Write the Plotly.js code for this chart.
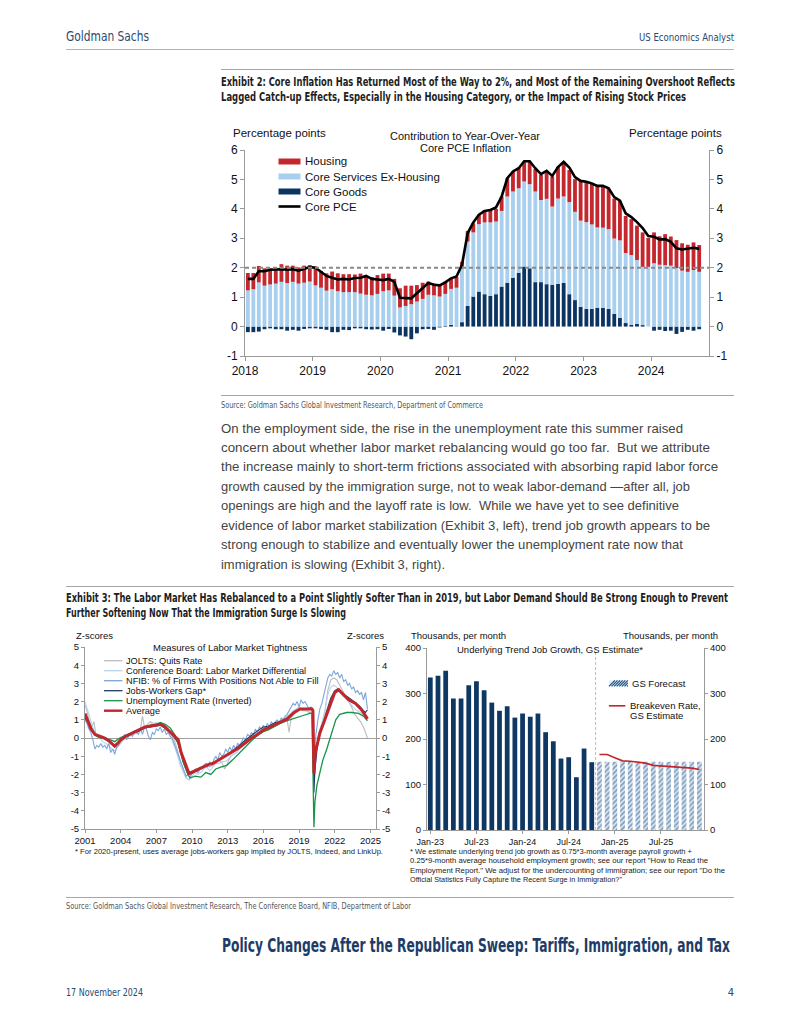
<!DOCTYPE html>
<html><head><meta charset="utf-8">
<script src="https://cdn.plot.ly/plotly-3.0.1.min.js"></script>
<style>
body{margin:0;width:800px;height:1035px;position:relative;background:#fff;overflow:hidden;font-family:"Liberation Sans",Arial,sans-serif}
.t{position:absolute;white-space:pre;transform-origin:0 0;line-height:1}
.cond{font-family:"Liberation Sans Narrow","DejaVu Sans Condensed","Liberation Sans",Arial,sans-serif;font-stretch:condensed}
.rule{position:absolute;height:0}
.chart{position:absolute}
</style></head>
<body>
<div id="c1" class="chart" style="left:200px;top:115px;width:560px;height:275px"></div>
<div id="c2" class="chart" style="left:60px;top:625px;width:340px;height:240px"></div>
<div id="c3" class="chart" style="left:395px;top:625px;width:345px;height:240px"></div>
<script>
// ---------------- Exhibit 2 data (monthly, Jan 2018 - Sep 2024) ----------------
const ex2Start = [2018, 1];
const ex2Count = 81;
const coreGoods = [-0.19,-0.19,-0.17,-0.09,-0.06,-0.09,-0.09,-0.14,-0.11,-0.14,-0.08,-0.06,
 -0.06,-0.08,-0.11,-0.19,-0.19,-0.11,-0.12,-0.06,-0.06,-0.09,-0.10,-0.09,
 -0.14,-0.08,-0.20,-0.30,-0.34,-0.43,-0.23,-0.09,-0.08,-0.11,-0.03,0.02,
 0.06,0.01,0.15,0.70,1.02,1.19,1.10,1.04,1.10,1.36,1.49,1.66,
 1.83,2.04,1.98,1.51,1.51,1.44,1.42,1.45,1.48,1.10,0.90,0.67,
 0.60,0.60,0.64,0.64,0.60,0.43,0.30,0.12,0.06,0.09,0.05,0.00,
 -0.14,-0.11,-0.15,-0.14,-0.25,-0.18,-0.11,-0.14,-0.09];
const coreServicesExHousing = [1.23,1.27,1.50,1.39,1.43,1.46,1.52,1.48,1.52,1.46,1.49,1.53,
 1.40,1.32,1.22,1.27,1.20,1.17,1.17,1.17,1.12,1.08,1.06,1.11,
 1.20,1.23,1.05,0.65,0.70,0.76,0.85,0.94,1.08,1.06,1.02,1.09,
 1.22,1.31,1.89,2.19,2.18,2.29,2.44,2.50,2.47,2.57,2.93,2.93,
 2.87,2.89,2.86,3.08,2.79,2.90,2.66,2.90,2.94,3.13,3.00,2.93,
 2.95,2.87,2.73,2.72,2.71,2.56,2.63,2.38,2.37,2.17,1.98,2.03,
 2.15,2.10,2.09,2.07,1.99,1.90,1.86,1.92,1.86];
const housing = [0.59,0.55,0.56,0.59,0.55,0.54,0.60,0.59,0.55,0.55,0.58,0.56,
 0.64,0.57,0.59,0.60,0.61,0.61,0.61,0.60,0.68,0.62,0.62,0.64,
 0.60,0.57,0.57,0.65,0.69,0.63,0.56,0.55,0.45,0.40,0.40,0.42,
 0.36,0.36,0.16,0.36,0.31,0.32,0.42,0.45,0.43,0.49,0.62,0.68,
 0.70,0.67,0.76,0.77,0.85,0.93,1.02,1.08,1.18,1.09,1.11,1.34,
 1.36,1.37,1.40,1.42,1.37,1.36,1.34,1.26,1.22,1.17,1.17,0.98,
 1.05,0.97,1.05,0.99,0.95,0.93,0.92,0.94,0.91];
const corePCE = [1.62,1.62,1.88,1.88,1.93,1.94,1.95,1.93,1.95,1.90,1.95,2.02,
 2.00,1.85,1.72,1.66,1.60,1.62,1.60,1.65,1.66,1.72,1.62,1.60,
 1.58,1.62,1.52,0.98,0.97,0.96,1.13,1.30,1.48,1.42,1.40,1.50,
 1.64,1.70,2.10,3.17,3.54,3.80,3.93,3.96,4.05,4.42,5.04,5.27,
 5.38,5.62,5.62,5.38,5.18,5.29,5.12,5.42,5.60,5.40,5.08,4.95,
 4.92,4.86,4.78,4.78,4.70,4.40,4.28,3.85,3.72,3.55,3.35,3.08,
 3.05,2.96,2.97,2.88,2.66,2.62,2.65,2.68,2.64];
const ex2YearTicks = ['2018','2019','2020','2021','2022','2023','2024'];
const ex2YTicks = [-1,0,1,2,3,4,5,6];
const ex2YTickText = ['-1','0','1','2','3','4','5','6'];
const ex2Target = 2;

// ---------------- Exhibit 3 left data (z-scores) ----------------
const joltsQuits = [['2001-01',1.8],['2001-03',1.5],['2001-05',1.0],['2001-08',0.6],['2001-10',0.9],['2001-12',0.2],['2002-03',0.1],['2002-06',0.0],['2002-09',-0.1],['2002-12',-0.1],['2003-03',-0.3],['2003-06',-0.4],['2003-09',-0.3],['2003-12',-0.2],['2004-03',0.0],['2004-06',0.1],['2004-09',0.2],['2004-12',0.2],['2005-03',0.3],['2005-06',0.45],['2005-09',0.5],['2005-11',1.2],['2006-01',0.6],['2006-04',0.75],['2006-07',0.9],['2006-10',0.8],['2007-01',0.75],['2007-04',0.8],['2007-07',0.6],['2007-10',0.6],['2008-01',0.4],['2008-04',0.2],['2008-07',-0.1],['2008-10',-0.6],['2009-01',-1.3],['2009-04',-1.8],['2009-07',-2.2],['2009-10',-2.3],['2010-01',-1.9],['2010-04',-1.8],['2010-07',-1.9],['2010-10',-1.7],['2011-01',-1.5],['2011-04',-1.4],['2011-07',-1.6],['2011-10',-1.5],['2012-01',-1.3],['2012-04',-1.2],['2012-07',-1.35],['2012-10',-1.7],['2013-01',-1.3],['2013-04',-1.0],['2013-07',-0.9],['2013-10',-0.8],['2014-01',-0.6],['2014-04',-0.4],['2014-07',-0.2],['2014-10',0.0],['2015-01',0.1],['2015-04',0.2],['2015-07',0.3],['2015-10',0.3],['2016-01',0.5],['2016-04',0.55],['2016-07',0.5],['2016-10',0.6],['2017-01',0.7],['2017-04',0.8],['2017-07',0.8],['2017-10',0.9],['2018-01',1.0],['2018-03',0.3],['2018-05',1.1],['2018-08',1.3],['2018-11',1.5],['2019-02',1.6],['2019-05',1.5],['2019-08',1.5],['2019-11',1.4],['2020-02',1.4],['2020-04',-2.5],['2020-06',-0.8],['2020-09',0.3],['2020-12',0.8],['2021-03',1.4],['2021-06',2.6],['2021-09',3.2],['2021-12',3.3],['2022-03',3.2],['2022-06',2.9],['2022-09',2.6],['2022-12',2.3],['2023-03',2.0],['2023-06',1.7],['2023-09',1.3],['2023-12',1.1],['2024-03',0.9],['2024-06',0.6],['2024-08',0.3],['2024-10',0.0]];
const confBoard = [['2001-01',2.0],['2001-04',1.5],['2001-07',1.0],['2001-10',0.4],['2002-01',0.1],['2002-04',0.0],['2002-07',-0.2],['2002-10',-0.3],['2003-01',-0.4],['2003-04',-0.6],['2003-07',-0.7],['2003-10',-0.5],['2004-01',-0.3],['2004-04',-0.1],['2004-07',0.0],['2004-10',0.1],['2005-01',0.15],['2005-04',0.25],['2005-07',0.3],['2005-10',0.4],['2006-01',0.5],['2006-04',0.6],['2006-07',0.75],['2006-10',0.8],['2007-01',0.85],['2007-04',0.8],['2007-07',0.7],['2007-10',0.5],['2008-01',0.3],['2008-04',0.0],['2008-07',-0.4],['2008-10',-0.9],['2009-01',-1.5],['2009-04',-1.9],['2009-07',-2.2],['2009-10',-2.3],['2010-01',-2.1],['2010-04',-1.9],['2010-07',-2.0],['2010-10',-1.9],['2011-01',-1.7],['2011-04',-1.6],['2011-07',-1.8],['2011-10',-1.6],['2012-01',-1.4],['2012-04',-1.4],['2012-07',-1.3],['2012-10',-1.3],['2013-01',-1.2],['2013-04',-1.0],['2013-07',-0.9],['2013-10',-0.8],['2014-01',-0.6],['2014-04',-0.3],['2014-07',-0.1],['2014-10',0.0],['2015-01',0.0],['2015-04',0.1],['2015-07',0.3],['2015-10',0.3],['2016-01',0.4],['2016-04',0.5],['2016-07',0.6],['2016-10',0.7],['2017-01',0.8],['2017-04',0.9],['2017-07',1.0],['2017-10',1.1],['2018-01',1.2],['2018-04',1.3],['2018-07',1.5],['2018-10',1.6],['2019-01',1.7],['2019-04',1.6],['2019-07',1.5],['2019-10',1.5],['2020-02',1.4],['2020-04',-1.5],['2020-06',-0.5],['2020-09',0.3],['2020-12',0.8],['2021-03',1.5],['2021-06',2.4],['2021-09',2.8],['2021-12',2.9],['2022-03',2.8],['2022-06',2.5],['2022-09',2.3],['2022-12',2.2],['2023-03',2.0],['2023-06',1.8],['2023-09',1.6],['2023-12',1.5],['2024-03',1.4],['2024-06',1.2],['2024-10',1.0]];
const nfibUnfilled = [['2001-01',1.0],['2001-03',0.8],['2001-05',0.5],['2001-07',0.3],['2001-09',-0.1],['2001-11',-0.6],['2002-01',-0.4],['2002-03',-0.5],['2002-05',-0.3],['2002-07',-0.5],['2002-09',-0.4],['2002-11',-0.6],['2003-01',-0.3],['2003-03',-0.8],['2003-05',-0.6],['2003-07',-0.9],['2003-09',-0.5],['2003-11',-0.4],['2004-01',-0.2],['2004-03',-0.1],['2004-05',0.2],['2004-07',-0.1],['2004-09',0.1],['2004-11',0.2],['2005-01',0.1],['2005-03',0.4],['2005-05',0.3],['2005-07',0.2],['2005-09',0.5],['2005-11',0.2],['2006-01',0.6],['2006-03',0.5],['2006-05',0.1],['2006-07',-0.1],['2006-09',0.3],['2006-11',0.2],['2007-01',0.5],['2007-03',0.4],['2007-05',0.6],['2007-07',0.3],['2007-09',0.5],['2007-11',0.2],['2008-01',0.3],['2008-03',0.1],['2008-05',0.0],['2008-07',-0.3],['2008-09',-0.6],['2008-11',-0.9],['2009-01',-1.3],['2009-03',-1.6],['2009-05',-1.9],['2009-07',-2.1],['2009-09',-2.0],['2009-11',-2.2],['2010-01',-1.9],['2010-03',-1.8],['2010-05',-1.7],['2010-07',-1.9],['2010-09',-1.6],['2010-11',-1.7],['2011-01',-1.5],['2011-03',-1.4],['2011-05',-1.6],['2011-07',-1.3],['2011-09',-1.5],['2011-11',-1.2],['2012-01',-1.0],['2012-03',-1.2],['2012-05',-0.8],['2012-07',-1.0],['2012-09',-0.9],['2012-11',-0.6],['2013-01',-0.8],['2013-03',-0.5],['2013-05',-0.7],['2013-07',-0.4],['2013-09',-0.6],['2013-11',-0.3],['2014-01',-0.4],['2014-03',-0.2],['2014-05',0.0],['2014-07',-0.1],['2014-09',0.2],['2014-11',0.1],['2015-01',0.3],['2015-03',0.2],['2015-05',0.5],['2015-07',0.3],['2015-09',0.6],['2015-11',0.5],['2016-01',0.7],['2016-03',0.5],['2016-05',0.8],['2016-07',0.6],['2016-09',0.9],['2016-11',0.7],['2017-01',0.9],['2017-03',1.0],['2017-05',0.8],['2017-07',1.1],['2017-09',1.0],['2017-11',1.2],['2018-01',1.3],['2018-03',1.5],['2018-05',1.7],['2018-07',1.9],['2018-09',1.8],['2018-11',2.0],['2019-01',1.7],['2019-03',2.1],['2019-05',1.9],['2019-07',2.0],['2019-09',1.8],['2019-11',1.6],['2020-01',1.7],['2020-03',1.4],['2020-04',-1.2],['2020-06',0.2],['2020-08',1.0],['2020-10',1.6],['2020-12',1.9],['2021-02',2.4],['2021-04',3.0],['2021-06',3.3],['2021-08',3.5],['2021-10',3.4],['2021-12',3.7],['2022-02',3.5],['2022-04',3.6],['2022-06',3.3],['2022-08',3.5],['2022-10',3.1],['2022-12',3.2],['2023-02',2.9],['2023-04',3.0],['2023-06',2.7],['2023-08',2.8],['2023-10',2.5],['2023-12',2.6],['2024-02',2.4],['2024-04',2.5],['2024-06',2.1],['2024-08',2.5],['2024-10',1.6]];
const jobsWorkersGap = [['2001-01',1.1],['2001-06',0.7],['2001-11',0.2],['2002-06',0.05],['2003-01',-0.2],['2003-07',-0.45],['2004-01',-0.15],['2004-06',0.05],['2005-01',0.25],['2005-06',0.35],['2006-01',0.55],['2006-06',0.6],['2007-01',0.65],['2007-06',0.7],['2008-01',0.4],['2008-06',0.15],['2008-11',-0.3],['2009-04',-1.3],['2009-09',-2.0],['2010-01',-1.95],['2010-06',-1.8],['2011-01',-1.6],['2011-06',-1.45],['2012-01',-1.3],['2012-06',-1.1],['2013-01',-0.9],['2013-06',-0.7],['2014-01',-0.4],['2014-06',-0.15],['2015-01',0.15],['2015-06',0.35],['2016-01',0.6],['2016-06',0.65],['2017-01',0.85],['2017-06',0.9],['2018-01',1.1],['2018-06',1.35],['2019-01',1.55],['2019-06',1.6],['2020-01',1.65],['2020-03',1.5],['2020-04',-3.0],['2020-05',-1.8],['2020-07',-0.7],['2020-10',0.3],['2021-01',0.7],['2021-05',1.5],['2021-09',2.2],['2022-01',2.6],['2022-04',2.7],['2022-08',2.45],['2023-01',2.3],['2023-06',2.1],['2023-10',1.95],['2024-02',1.75],['2024-06',1.5],['2024-08',1.4],['2024-10',1.55]];
const unempInverted = [['2001-01',1.05],['2001-06',0.75],['2001-11',0.15],['2002-04',0.0],['2002-10',-0.05],['2003-03',-0.1],['2003-07',-0.2],['2003-12',0.0],['2004-06',0.15],['2005-01',0.3],['2005-07',0.45],['2006-01',0.55],['2006-07',0.7],['2007-01',0.75],['2007-05',0.85],['2007-10',0.75],['2008-03',0.55],['2008-08',0.15],['2008-12',-0.5],['2009-04',-1.3],['2009-08',-1.9],['2009-11',-2.2],['2010-04',-2.1],['2010-10',-2.15],['2011-03',-1.9],['2011-08',-2.0],['2012-01',-1.7],['2012-06',-1.6],['2012-12',-1.5],['2013-06',-1.2],['2013-12',-0.85],['2014-06',-0.5],['2015-01',-0.15],['2015-06',0.1],['2016-01',0.35],['2016-06',0.45],['2017-01',0.65],['2017-06',0.8],['2018-01',0.95],['2018-06',1.05],['2019-01',1.15],['2019-06',1.25],['2019-12',1.35],['2020-02',1.35],['2020-04',-4.9],['2020-05',-3.5],['2020-07',-2.6],['2020-10',-1.8],['2021-01',-1.2],['2021-05',-0.6],['2021-08',-0.1],['2021-11',0.5],['2022-02',1.0],['2022-06',1.3],['2023-01',1.4],['2023-06',1.4],['2024-01',1.35],['2024-06',1.2],['2024-10',0.95]];
const averageZ = [['2001-01',1.35],['2001-04',0.9],['2001-07',0.5],['2001-11',0.2],['2002-04',0.1],['2002-09',0.0],['2003-01',-0.15],['2003-04',-0.3],['2003-07',-0.45],['2003-10',-0.3],['2004-01',-0.1],['2004-06',0.1],['2005-01',0.3],['2005-06',0.4],['2006-01',0.6],['2006-06',0.65],['2007-01',0.7],['2007-05',0.75],['2007-09',0.65],['2008-01',0.45],['2008-06',0.2],['2008-11',-0.1],['2009-02',-0.8],['2009-06',-1.4],['2009-10',-1.95],['2010-02',-1.85],['2010-06',-1.75],['2010-10',-1.65],['2011-02',-1.55],['2011-06',-1.45],['2011-10',-1.4],['2012-01',-1.3],['2012-06',-1.15],['2012-10',-1.0],['2013-06',-0.75],['2013-12',-0.55],['2014-06',-0.3],['2015-01',0.0],['2015-06',0.15],['2016-01',0.45],['2016-06',0.55],['2017-01',0.75],['2017-06',0.85],['2018-01',1.05],['2018-08',1.4],['2019-02',1.6],['2019-08',1.6],['2020-02',1.6],['2020-03',1.5],['2020-04',-1.93],['2020-05',-1.0],['2020-06',-0.6],['2020-08',-0.2],['2020-10',0.28],['2021-03',1.0],['2021-08',1.75],['2022-01',2.5],['2022-05',2.65],['2022-10',2.4],['2023-03',2.1],['2023-10',1.9],['2024-04',1.55],['2024-10',1.05]];
const ex3LeftYears = ['2001','2004','2007','2010','2013','2016','2019','2022','2025'];
const ex3LeftYTicks = [-5,-4,-3,-2,-1,0,1,2,3,4,5];
const ex3LeftYTickText = ['-5','-4','-3','-2','-1','0','1','2','3','4','5'];

// ---------------- Exhibit 3 right data ----------------
const jobMonths = ['Jan-23','Feb-23','Mar-23','Apr-23','May-23','Jun-23','Jul-23','Aug-23','Sep-23','Oct-23','Nov-23','Dec-23',
 'Jan-24','Feb-24','Mar-24','Apr-24','May-24','Jun-24','Jul-24','Aug-24','Sep-24','Oct-24','Nov-24','Dec-24',
 'Jan-25','Feb-25','Mar-25','Apr-25','May-25','Jun-25','Jul-25','Aug-25','Sep-25','Oct-25','Nov-25','Dec-25'];
const trendJobGrowth = [335,339,350,289,289,318,327,307,280,262,272,247,256,249,256,215,195,157,160,116,179,149];
const gsForecast = [150,150,150,150,150,150,150,150,150,150,150,150,150,150];
const breakevenRate = [166,166,159,152,151,149,147,142,141,139,139,138,136,133];
const jobTicks = ['Jan-23','Jul-23','Jan-24','Jul-24','Jan-25','Jul-25'];

// ---------------- page text ----------------
const paragraph = [
 'On the employment side, the rise in the unemployment rate this summer raised',
 'concern about whether labor market rebalancing would go too far.  But we attribute',
 'the increase mainly to short-term frictions associated with absorbing rapid labor force',
 'growth caused by the immigration surge, not to weak labor-demand \u2014after all, job',
 'openings are high and the layoff rate is low.  While we have yet to see definitive',
 'evidence of labor market stabilization (Exhibit 3, left), trend job growth appears to be',
 'strong enough to stabilize and eventually lower the unemployment rate now that',
 'immigration is slowing (Exhibit 3, right).'];
const paraEnds = [683,710,718,690,679,710,683,445];
const footRight = [
 '* We estimate underlying trend job growth as 0.75*3-month average payroll growth +',
 '0.25*9-month average household employment growth; see our report "How to Read the',
 'Employment Report." We adjust for the undercounting of immigration; see our report "Do the',
 'Official Statistics Fully Capture the Recent Surge in Immigration?"'];
const footRightEnds = [692,708,725,622];

const FONT = 'Liberation Sans, Arial, sans-serif';
const RED = '#c4282e', LBLUE = '#a9cfee', NAVY = '#0c3463';
const AX = '#9a9a9a';

function addRule(x1,x2,y,color,th){
  const d=document.createElement('div'); d.className='rule';
  d.style.left=x1+'px'; d.style.width=(x2-x1)+'px'; d.style.top=y+'px';
  d.style.borderTop=(th||1)+'px solid '+(color||'#a8a8a8');
  document.body.appendChild(d);
}
const texts=[];
function addText(o){ texts.push(o); }
function layoutTexts(){
  texts.forEach(o=>{
    const d=document.createElement('div');
    d.className='t'+(o.cls?' '+o.cls:'');
    d.textContent=o.text;
    d.style.fontSize=o.size+'px';
    d.style.fontWeight=o.bold?'bold':'normal';
    d.style.color=o.color||'#222';
    d.style.left='0px'; d.style.top='0px';
    document.body.appendChild(d);
    const w0=d.getBoundingClientRect().width;
    const w=o.w||w0;
    const s=w/w0;
    const left=o.align==='right'? o.x-w : o.x;
    d.style.left=left+'px';
    d.style.top=(o.y-o.size*0.55)+'px';
    d.style.transform='scaleX('+s+')';
  });
}

// rules
addRule(66,734,48.5,'#b3b3b3',1.5);
addRule(221,734,68.5,'#a6a6a6',1.5);
addRule(221,734,395,'#a6a6a6',1);
addRule(66,734,586,'#a6a6a6',1.5);
addRule(66,734,897,'#a6a6a6',1);

// header/footer
const DKBLUE='#2a4a70';
addText({text:'Goldman Sachs',x:66,y:37,size:14,w:83,color:DKBLUE,cls:'cond'});
addText({text:'US Economics Analyst',x:734,y:38,size:11,w:95,color:DKBLUE,cls:'cond',align:'right'});
addText({text:'Exhibit 2: Core Inflation Has Returned Most of the Way to 2%, and Most of the Remaining Overshoot Reflects',x:221,y:83,size:12.5,w:514,bold:true,color:'#1e1e1e',cls:'cond'});
addText({text:'Lagged Catch-up Effects, Especially in the Housing Category, or the Impact of Rising Stock Prices',x:221,y:98,size:12.5,w:465,bold:true,color:'#1e1e1e',cls:'cond'});
addText({text:'Source: Goldman Sachs Global Investment Research, Department of Commerce',x:221,y:406,size:8.5,w:262,color:'#555',cls:'cond'});
paragraph.forEach((s,i)=>addText({text:s,x:221,y:429+19.45*i,size:13.5,w:paraEnds[i]-221,color:'#444'}));
addText({text:'Exhibit 3: The Labor Market Has Rebalanced to a Point Slightly Softer Than in 2019, but Labor Demand Should Be Strong Enough to Prevent',x:66,y:599,size:12.5,w:662,bold:true,color:'#1e1e1e',cls:'cond'});
addText({text:'Further Softening Now That the Immigration Surge Is Slowing',x:66,y:614,size:12.5,w:280,bold:true,color:'#1e1e1e',cls:'cond'});
addText({text:'* For 2020-present, uses average jobs-workers gap implied by JOLTS, Indeed, and LinkUp.',x:75,y:852,size:8,w:308,color:'#222'});
footRight.forEach((s,i)=>addText({text:s,x:410,y:852+9.6*i,size:8,w:footRightEnds[i]-410,color:'#222'}));
addText({text:'Source: Goldman Sachs Global Investment Research, The Conference Board, NFIB, Department of Labor',x:66,y:907,size:8.5,w:345,color:'#555',cls:'cond'});
addText({text:'Policy Changes After the Republican Sweep: Tariffs, Immigration, and Tax',x:222,y:946,size:19,w:508,bold:true,color:'#1d3d68',cls:'cond'});
addText({text:'17 November 2024',x:66,y:993,size:11,w:77,color:DKBLUE,cls:'cond'});
addText({text:'4',x:734,y:993,size:11,color:DKBLUE,cls:'cond',align:'right'});

// ---------------- Chart 1 ----------------
(function(){
  const months=[];
  for(let i=0;i<ex2Count;i++){const y=ex2Start[0]+Math.floor((ex2Start[1]-1+i)/12), m=(ex2Start[1]-1+i)%12+1; months.push(y+'-'+String(m).padStart(2,'0'));}
  const L=245,R=709,T=150,B=356;
  const px=(x)=> (x-L)/(R-L), py=(y)=> (B-y)/(B-T);
  const common={x:months,type:'bar',xperiod:'M1',xperiodalignment:'middle',showlegend:false,hoverinfo:'skip'};
  const traces=[
    Object.assign({},common,{y:coreGoods,marker:{color:NAVY}}),
    Object.assign({},common,{y:coreServicesExHousing,marker:{color:LBLUE}}),
    Object.assign({},common,{y:housing,marker:{color:RED}}),
    {x:months,y:corePCE,type:'scatter',mode:'lines',xperiod:'M1',xperiodalignment:'middle',line:{color:'#000',width:2.6},showlegend:false,hoverinfo:'skip'},
    {x:[months[0]],y:[null],type:'scatter',mode:'lines',yaxis:'y2',showlegend:false,hoverinfo:'skip'}
  ];
  const ann=[];
  const A=(text,x,y,anchor,size)=>ann.push({text,xref:'paper',yref:'paper',x:px(x),y:py(y),xanchor:anchor||'center',yanchor:'middle',showarrow:false,font:{family:FONT,size:size||11,color:'#111'}});
  A('Percentage points',231,133.5,'left',11.5);
  A('Percentage points',724,133.5,'right',11.5);
  A('Contribution to Year-Over-Year',465,136,'center',11);
  A('Core PCE Inflation',465,148.5,'center',11);
  const legItems=[['Housing',RED,'rect'],['Core Services Ex-Housing',LBLUE,'rect'],['Core Goods',NAVY,'rect'],['Core PCE','#000','line']];
  const shapes=[{type:'line',xref:'paper',yref:'y',x0:0,x1:1,y0:ex2Target,y1:ex2Target,line:{color:'#8a8a8a',width:2,dash:'4px,3px'},layer:'above'}];
  legItems.forEach((it,i)=>{
    const y=161.5+15*i;
    if(it[2]==='rect') shapes.push({type:'rect',xref:'paper',yref:'paper',x0:px(278.5),x1:px(300.5),y0:py(y+3),y1:py(y-3),fillcolor:it[1],line:{width:0}});
    else shapes.push({type:'line',xref:'paper',yref:'paper',x0:px(278.5),x1:px(300.5),y0:py(y),y1:py(y),line:{color:it[1],width:2.6}});
    A(it[0],302.5,y,'left',11.5);
  });
  const yax={range:[-1,6],tickmode:'array',tickvals:ex2YTicks,ticktext:ex2YTickText,showgrid:false,zeroline:false,showline:true,linecolor:AX,linewidth:1,ticks:'outside',ticklen:4,tickcolor:AX,tickfont:{family:FONT,size:12,color:'#111'},fixedrange:true};
  const layout={width:560,height:275,margin:{l:L-200,r:760-R,t:T-115,b:390-B},paper_bgcolor:'rgba(0,0,0,0)',plot_bgcolor:'rgba(0,0,0,0)',
    barmode:'relative',bargap:0.3,showlegend:false,
    xaxis:{type:'date',range:['2018-01-01','2024-11-08'],tickvals:ex2YearTicks.map(y=>y+'-01-01'),ticktext:ex2YearTicks,showgrid:false,zeroline:false,showline:true,linecolor:AX,ticks:'outside',ticklen:4,tickcolor:AX,tickfont:{family:FONT,size:12,color:'#111'}},
    yaxis:yax,
    yaxis2:Object.assign({},yax,{overlaying:'y',side:'right'}),
    annotations:ann,shapes};
  Plotly.newPlot('c1',traces,layout,{staticPlot:true});
})();

// ---------------- Chart 2 ----------------
(function(){
  const L=85,R=376,T=647,B=829;
  const px=(x)=> (x-L)/(R-L), py=(y)=> (B-y)/(B-T);
  const series=[
    ['JOLTS: Quits Rate',joltsQuits,'#bdbdbd',1.1],
    ['Conference Board: Labor Market Differential',confBoard,'#b9d3ee',1.1],
    ['NFIB: % of Firms With Positions Not Able to Fill',nfibUnfilled,'#7ba6d9',1.1],
    ['Jobs-Workers Gap*',jobsWorkersGap,'#1d3866',1.1],
    ['Unemployment Rate (Inverted)',unempInverted,'#16944a',1.3],
    ['Average',averageZ,'#c0272d',3]];
  const traces=series.map(s=>({x:s[1].map(p=>p[0]),y:s[1].map(p=>p[1]),type:'scatter',mode:'lines',line:{color:s[2],width:s[3]},showlegend:false,hoverinfo:'skip'}));
  traces.push({x:['2001-01'],y:[null],type:'scatter',mode:'lines',yaxis:'y2',showlegend:false,hoverinfo:'skip'});
  const ann=[],shapes=[];
  const A=(text,x,y,anchor,size)=>ann.push({text,xref:'paper',yref:'paper',x:px(x),y:py(y),xanchor:anchor||'center',yanchor:'middle',showarrow:false,font:{family:FONT,size:size||9,color:'#111'}});
  A('Z-scores',74,635,'left',9.5);
  A('Z-scores',386,635,'right',9.5);
  A('Measures of Labor Market Tightness',229.5,647.5,'center',9.5);
  series.forEach((s,i)=>{
    const y=660.7+10*i;
    shapes.push({type:'line',xref:'paper',yref:'paper',x0:px(104),x1:px(122.5),y0:py(y),y1:py(y),line:{color:s[2],width:s[3]===3?2.4:1.3}});
    A(s[0],123.5,y,'left',9.2);
  });
  const yax={range:[-5,5],tickmode:'array',tickvals:ex3LeftYTicks,ticktext:ex3LeftYTickText,showgrid:false,zeroline:true,zerolinecolor:'#a0a0a0',zerolinewidth:1,showline:true,linecolor:AX,ticks:'outside',ticklen:3,tickcolor:AX,tickfont:{family:FONT,size:9.5,color:'#111'},fixedrange:true};
  const layout={width:340,height:240,margin:{l:L-60,r:400-R,t:T-625,b:865-B},paper_bgcolor:'rgba(0,0,0,0)',plot_bgcolor:'rgba(0,0,0,0)',showlegend:false,
    xaxis:{type:'date',range:['2001-01-01','2025-06-20'],tickvals:ex3LeftYears.map(y=>y+'-01-01'),ticktext:ex3LeftYears,showgrid:false,zeroline:false,showline:true,linecolor:AX,ticks:'outside',ticklen:3,tickcolor:AX,tickfont:{family:FONT,size:9.5,color:'#111'}},
    yaxis:yax,yaxis2:Object.assign({},yax,{overlaying:'y',side:'right',zeroline:false}),annotations:ann,shapes};
  Plotly.newPlot('c2',traces,layout,{staticPlot:true});
})();

// ---------------- Chart 3 ----------------
(function(){
  const L=426.7,R=704.3,T=647.7,B=829.7;
  const px=(x)=> (x-L)/(R-L), py=(y)=> (B-y)/(B-T);
  const nA=trendJobGrowth.length;
  const fMonths=jobMonths.slice(nA, nA+gsForecast.length);
  const STRIPE='#1f5186';
  const traces=[
    {x:jobMonths.slice(0,nA),y:trendJobGrowth,type:'bar',marker:{color:'#0f3763'},showlegend:false,hoverinfo:'skip'},
    {x:fMonths,y:gsForecast,type:'bar',marker:{color:'#d9e6f3',line:{width:0},pattern:{shape:'/',fgcolor:STRIPE,bgcolor:'#e3edf7',size:3.5,solidity:0.55,fillmode:'overlay'}},showlegend:false,hoverinfo:'skip'},
    {x:fMonths,y:breakevenRate,type:'scatter',mode:'lines',line:{color:'#c0272d',width:1.6},showlegend:false,hoverinfo:'skip'},
    {x:[jobMonths[0]],y:[null],type:'scatter',yaxis:'y2',showlegend:false,hoverinfo:'skip'}
  ];
  const ann=[];
  const A=(text,x,y,anchor,size)=>ann.push({text,xref:'paper',yref:'paper',x:px(x),y:py(y),xanchor:anchor||'center',yanchor:'middle',showarrow:false,font:{family:FONT,size:size||9.5,color:'#111'}});
  A('Thousands, per month',409,635,'left',9.5);
  A('Thousands, per month',720,635,'right',9.5);
  A('Underlying Trend Job Growth, GS Estimate*',549.7,649.3,'center',9.5);
  A('GS Forecast',630.5,682.7,'left',9.5);
  A('Breakeven Rate,',628.5,705.5,'left',9.5);
  A('GS Estimate',628.5,715.5,'left',9.5);
  const shapes=[
    {type:'line',xref:'x',yref:'paper',x0:nA-0.5,x1:nA-0.5,y0:0,y1:1,line:{color:'#bdbdbd',width:1,dash:'3px,2px'}},
    {type:'rect',xref:'paper',yref:'paper',x0:px(609),x1:px(628),y0:py(686),y1:py(680),fillcolor:'#e3edf7',line:{width:0}},
    {type:'line',xref:'paper',yref:'paper',x0:px(609),x1:px(625.5),y0:py(705.5),y1:py(705.5),line:{color:'#c0272d',width:1.6}}
  ];
  let p='';
  for(let k=0;k<8;k++){const x0=609+k*2.6; p+=`M${px(x0)},${py(686)} L${px(Math.min(x0+6,628))},${py(686-Math.min(6,628-x0))} `;}
  shapes.push({type:'path',xref:'paper',yref:'paper',path:p,line:{color:STRIPE,width:1.2}});
  const yax={range:[0,400],dtick:100,showgrid:false,zeroline:false,showline:true,linecolor:AX,ticks:'outside',ticklen:3,tickcolor:AX,tickfont:{family:FONT,size:9.5,color:'#111'},fixedrange:true};
  const layout={width:345,height:240,margin:{l:L-395,r:740-R,t:T-625,b:865-B},paper_bgcolor:'rgba(0,0,0,0)',plot_bgcolor:'rgba(0,0,0,0)',showlegend:false,bargap:0.38,
    xaxis:{type:'category',categoryorder:'array',categoryarray:jobMonths,range:[-0.43,35.6],tickmode:'array',tickvals:jobTicks,ticktext:jobTicks,showgrid:false,zeroline:false,showline:true,linecolor:AX,ticks:'outside',ticklen:3,tickcolor:AX,tickfont:{family:FONT,size:9,color:'#111'}},
    yaxis:yax,yaxis2:Object.assign({},yax,{overlaying:'y',side:'right'}),annotations:ann,shapes};
  Plotly.newPlot('c3',traces,layout,{staticPlot:true});
})();

(document.fonts && document.fonts.ready ? document.fonts.ready : Promise.resolve()).then(layoutTexts);
</script>
</body></html>
